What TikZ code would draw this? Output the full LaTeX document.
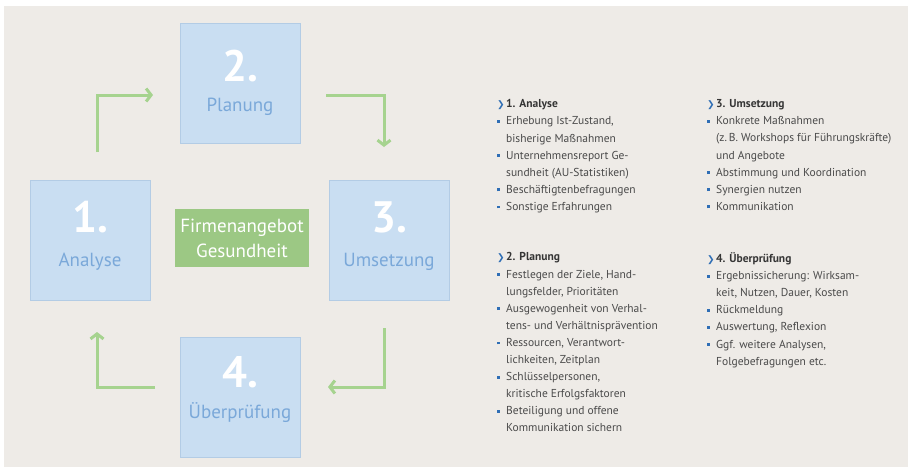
\documentclass[tikz,border=0pt]{standalone}
\usepackage{fontspec}
\setmainfont{PT Sans}
\newfontfamily\fgaSym{DejaVu Sans}
\usepackage{tikz}
\usetikzlibrary{arrows.meta,positioning}
\definecolor{FgaBack}{HTML}{EEEBE7}
\definecolor{FgaBox}{HTML}{C9DEF2}
\definecolor{FgaBoxLine}{HTML}{B3CCE5}
\definecolor{FgaLabel}{HTML}{7AA8D9}
\definecolor{FgaGreen}{HTML}{9CC884}
\definecolor{FgaArrow}{HTML}{A6D38F}
\definecolor{FgaBlue}{HTML}{2F6EB5}
\definecolor{FgaHead}{HTML}{353535}
\definecolor{FgaText}{HTML}{4A4A4A}
\newcommand\fgaHead[1]{\makebox[9pt][l]{\textcolor{FgaBlue}{\fgaSym\fontsize{9}{9}\selectfont ❯}}\textcolor{FgaHead}{\textbf{#1}}}
\newcommand\fgaItem{\makebox[9pt][l]{\textcolor{FgaBlue}{\rule[2.1pt]{2.8pt}{2.8pt}}}}
\newcommand\fgaCont{\hspace*{9pt}}

\begin{document}
\begin{tikzpicture}[x=1pt,y=1pt,
  stage/.style={draw=FgaBoxLine,fill=FgaBox,minimum size=120pt,inner sep=0pt,line width=0.8pt},
  num/.style={text=white,font=\fontsize{44}{44}\selectfont\bfseries,inner sep=0pt},
  lbl/.style={text=FgaLabel,font=\fontsize{19}{19}\selectfont,inner sep=0pt},
  flow/.style={draw=FgaArrow,line width=3pt,-{Straight Barb[length=5pt,width=13pt]}},
  col/.style={anchor=north west,inner sep=0pt,align=left,text=FgaText,font=\fontsize{11.5}{17.1}\selectfont}]
\useasboundingbox (0,0) rectangle (908,-467);
\fill[FgaBack] (4,-6) rectangle (908,-467);

\node[stage] (analyse) at (90,-240.5) {};
\node[stage] (planung) at (240,-83) {};
\node[stage] (umsetzung) at (389,-240.5) {};
\node[stage] (pruefung) at (240,-397) {};
\foreach \b/\n/\t/\ny/\ty in {analyse/1./Analyse/52/86,planung/2./Planung/59/89,%
  umsetzung/3./Umsetzung/52/86,pruefung/4./Überprüfung/51/82} {
   \node[num,anchor=base] (\b-num) at ([yshift=-\ny pt]\b.north) {\n};
   \node[lbl,anchor=base] (\b-lbl) at ([yshift=-\ty pt]\b.north) {\t};
}
\node[fill=FgaGreen,minimum width=134pt,minimum height=58pt,text=white,
  font=\fontsize{19}{25}\selectfont,align=center] (angebot) at (242,-238) {Firmenangebot\\Gesundheit};

\coordinate (a12s) at (97,-152);  \coordinate (a12e) at (153,-95);
\coordinate (a23s) at (326,-95);  \coordinate (a23e) at (384,-147);
\coordinate (a34s) at (384,-328); \coordinate (a34e) at (328,-387);
\coordinate (a41s) at (155,-387); \coordinate (a41e) at (97,-332);
\draw[flow] (a12s) |- (a12e);
\draw[flow] (a23s) -| (a23e);
\draw[flow] (a34s) |- (a34e);
\draw[flow] (a41s) -| (a41e);

\node[col] (txt-analyse) at (497,-99.5) {\fgaHead{1. Analyse}\\
  \fgaItem Erhebung Ist-Zustand,\\
  \fgaCont bisherige Maßnahmen\\
  \fgaItem Unternehmensreport Ge-\\
  \fgaCont sundheit (AU-Statistiken)\\
  \fgaItem Beschäftigtenbefragungen\\
  \fgaItem Sonstige Erfahrungen};
\node[col] (txt-planung) at (497,-252.5) {\fgaHead{2. Planung}\\
  \fgaItem Festlegen der Ziele, Hand-\\
  \fgaCont lungsfelder, Prioritäten\\
  \fgaItem Ausgewogenheit von Verhal-\\
  \fgaCont tens- und Verhältnisprävention\\
  \fgaItem Ressourcen, Verantwort-\\
  \fgaCont lichkeiten, Zeitplan\\
  \fgaItem Schlüsselpersonen,\\
  \fgaCont kritische Erfolgsfaktoren\\
  \fgaItem Beteiligung und offene\\
  \fgaCont Kommunikation sichern};
\node[col] (txt-umsetzung) at (707,-99.5) {\fgaHead{3. Umsetzung}\\
  \fgaItem Konkrete Maßnahmen\\
  \fgaCont (z.\,B. Workshops für Führungskräfte)\\
  \fgaCont und Angebote\\
  \fgaItem Abstimmung und Koordination\\
  \fgaItem Synergien nutzen\\
  \fgaItem Kommunikation};
\node[col] (txt-pruefung) at (707,-252.5) {\fgaHead{4. Überprüfung}\\
  \fgaItem Ergebnissicherung: Wirksam-\\
  \fgaCont keit, Nutzen, Dauer, Kosten\\
  \fgaItem Rückmeldung\\
  \fgaItem Auswertung, Reflexion\\
  \fgaItem Ggf. weitere Analysen,\\
  \fgaCont Folgebefragungen etc.};
\end{tikzpicture}
\end{document}
